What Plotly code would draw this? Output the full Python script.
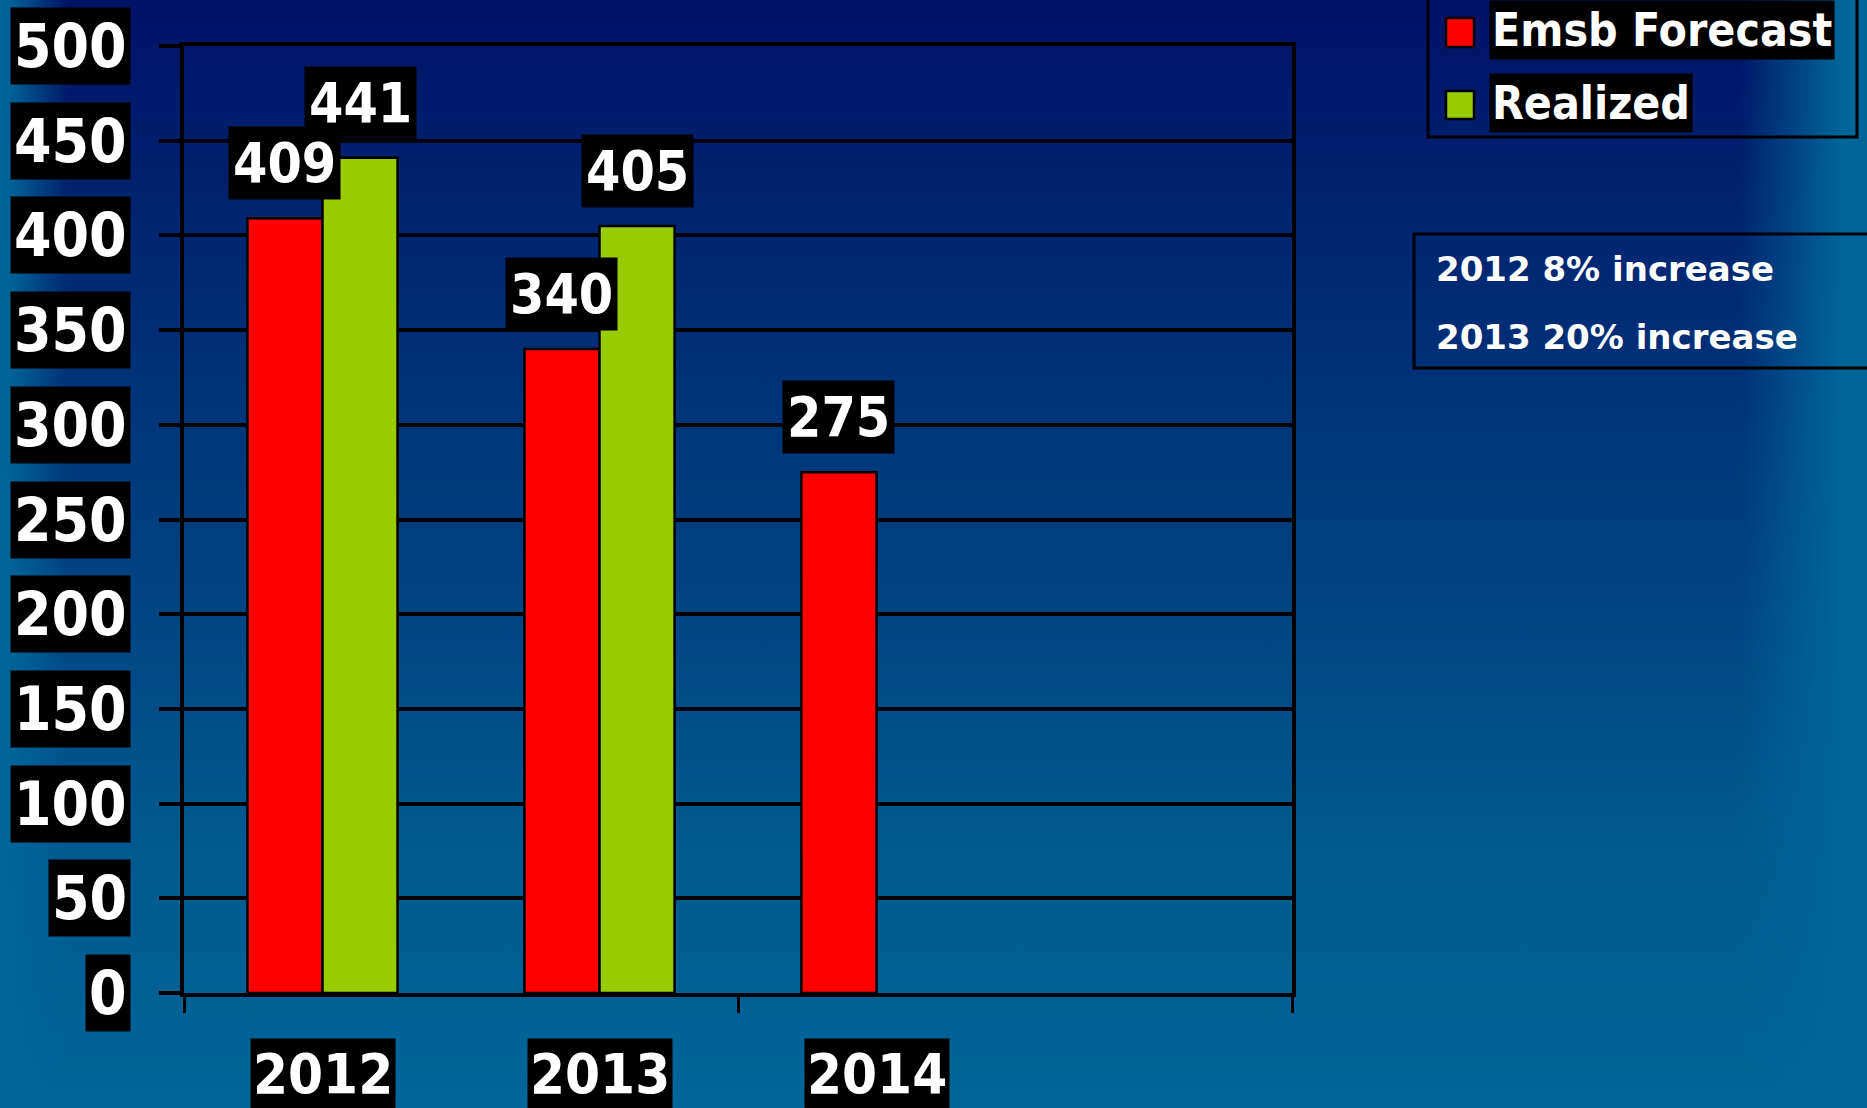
import base64
import plotly.graph_objects as go

# ---------------- data ----------------
categories = ["2012", "2013", "2014"]
forecast = [409, 340, 275]
realized = [441, 405, None]
series_names = ["Emsb Forecast", "Realized"]
y_ticks = [0, 50, 100, 150, 200, 250, 300, 350, 400, 450, 500]
notes = ["2012 8% increase", "2013 20% increase"]

# ---------------- layout geometry ----------------
W, H = 1867, 1108
L, R, T, B = 184, 575, 46, 115
PW = W - L - R
PH = H - T - B
N_SLOTS = 4
BARGAP = 0.458
RED = "#FF0000"
GREEN = "#99CC00"
FONT = "DejaVu Sans Condensed, DejaVu Sans"
FONT_NOTE = "DejaVu Sans"


def px(x):
    return (x - L) / PW


def py(y):
    return (H - B - y) / PH


# background gradient as inline svg
svg = f'''<svg xmlns="http://www.w3.org/2000/svg" width="{W}" height="{H}" viewBox="0 0 {W} {H}" preserveAspectRatio="none">
<defs>
<linearGradient id="v" x1="0" y1="0" x2="0" y2="1">
<stop offset="0" stop-color="#001266"/>
<stop offset="0.4" stop-color="#00377b"/>
<stop offset="0.75" stop-color="#00588f"/>
<stop offset="1" stop-color="#006699"/>
</linearGradient>
<linearGradient id="h" x1="0" y1="0" x2="1" y2="0">
<stop offset="0" stop-color="#00669a" stop-opacity="1"/>
<stop offset="0.005" stop-color="#00669a" stop-opacity="0.95"/>
<stop offset="0.036" stop-color="#00669a" stop-opacity="0"/>
<stop offset="0.932" stop-color="#00669a" stop-opacity="0"/>
<stop offset="0.987" stop-color="#00669a" stop-opacity="1"/>
<stop offset="1" stop-color="#00669a" stop-opacity="1"/>
</linearGradient>
</defs>
<rect width="{W}" height="{H}" fill="url(#v)"/>
<rect width="{W}" height="{H}" fill="url(#h)"/>
</svg>'''
bg_src = "data:image/svg+xml;base64," + base64.b64encode(svg.encode()).decode()

fig = go.Figure()
fig.add_trace(go.Bar(x=categories, y=forecast, name=series_names[0],
                     marker=dict(color=RED, line=dict(color="black", width=2.5))))
fig.add_trace(go.Bar(x=categories, y=realized, name=series_names[1],
                     marker=dict(color=GREEN, line=dict(color="black", width=2.5))))
fig.add_trace(go.Scatter(x=[], y=[], xaxis="x2", yaxis="y", showlegend=False))

annotations = []
# y tick labels with black boxes
for v in y_ticks:
    annotations.append(dict(
        x=0, xref="paper", y=v, yref="y", text=str(v), showarrow=False,
        xanchor="right", yanchor="middle", xshift=-53,
        bgcolor="black", borderpad=3,
        font=dict(family=FONT, size=60, color="white", weight="bold")))

# x category labels (category index on the category axis)
for i, c in enumerate(categories):
    annotations.append(dict(
        x=i, xref="x", y=0, yref="paper", text=c, showarrow=False,
        xanchor="center", yanchor="top", yshift=-45,
        bgcolor="black", borderpad=2,
        font=dict(family=FONT, size=56, color="white", weight="bold")))

# data labels
slot_px = PW / N_SLOTS
offset = slot_px * (1 - BARGAP) / 4
for series, sh in ((forecast, -offset), (realized, offset)):
    for i, v in enumerate(series):
        if v is None:
            continue
        annotations.append(dict(
            x=i, xref="x", y=v, yref="y", text=str(v), showarrow=False,
            xanchor="center", yanchor="bottom", xshift=sh, yshift=18,
            bgcolor="black", borderpad=4,
            font=dict(family=FONT, size=55, color="white", weight="bold")))

# manual legend
shapes = [
    dict(type="rect", xref="paper", yref="paper", x0=px(1428), x1=px(1857),
         y0=py(-10), y1=py(137), line=dict(color="black", width=3),
         fillcolor="rgba(0,0,0,0)", layer="above"),
    dict(type="rect", xref="paper", yref="paper", x0=px(1446), x1=px(1474),
         y0=py(18), y1=py(47), line=dict(color="black", width=2.5),
         fillcolor=RED, layer="above"),
    dict(type="rect", xref="paper", yref="paper", x0=px(1446), x1=px(1474),
         y0=py(91), y1=py(119), line=dict(color="black", width=2.5),
         fillcolor=GREEN, layer="above"),
    dict(type="rect", xref="paper", yref="paper", x0=px(1414), x1=px(1890),
         y0=py(234), y1=py(368), line=dict(color="black", width=3),
         fillcolor="rgba(0,0,0,0)", layer="above"),
]
for name, yc in zip(series_names, (30.5, 103.3)):
    annotations.append(dict(
        x=px(1489), xref="paper", y=py(yc), yref="paper", text=name,
        showarrow=False, xanchor="left", yanchor="middle",
        bgcolor="black", borderpad=2,
        font=dict(family=FONT, size=46, color="white", weight="bold")))

for note, yc in zip(notes, (269, 336.5)):
    annotations.append(dict(
        x=px(1434), xref="paper", y=py(yc), yref="paper", text=note,
        showarrow=False, xanchor="left", yanchor="middle",
        font=dict(family=FONT_NOTE, size=34, color="white", weight="bold")))

fig.update_layout(
    width=W, height=H,
    margin=dict(l=L, r=R, t=T, b=B, pad=0),
    paper_bgcolor="rgba(0,0,0,0)", plot_bgcolor="rgba(0,0,0,0)",
    barmode="group", bargap=BARGAP, bargroupgap=0,
    showlegend=False, hovermode=False,
    images=[dict(source=bg_src, xref="paper", yref="paper",
                 x=px(0), y=py(0), sizex=W / PW, sizey=H / PH,
                 sizing="stretch", xanchor="left", yanchor="top",
                 layer="below")],
    xaxis=dict(type="category", categoryorder="array", categoryarray=categories,
               range=[-0.5, N_SLOTS - 0.5], showline=True, linecolor="black",
               linewidth=3.5, mirror=True, ticks="", showticklabels=False,
               showgrid=False, zeroline=False),
    xaxis2=dict(overlaying="x", anchor="y", side="bottom",
                range=[-0.5, N_SLOTS - 0.5], tickmode="array",
                tickvals=[-0.5 + 2 * i for i in range(N_SLOTS // 2 + 1)],
                ticks="outside", ticklen=19, tickwidth=3, tickcolor="black",
                showticklabels=False, showgrid=False, zeroline=False,
                showline=False),
    yaxis=dict(range=[y_ticks[0], y_ticks[-1]], tick0=0, dtick=50,
               showgrid=True, gridcolor="black", gridwidth=3.5,
               showline=True, linecolor="black", linewidth=3.5, mirror=True,
               ticks="outside", ticklen=21, tickwidth=3.5, tickcolor="black",
               showticklabels=False, zeroline=False),
    annotations=annotations,
    shapes=shapes,
)

fig.write_html("out.html", config={"displayModeBar": False},
               post_script="document.body.style.margin='0';document.body.style.overflow='hidden';")
